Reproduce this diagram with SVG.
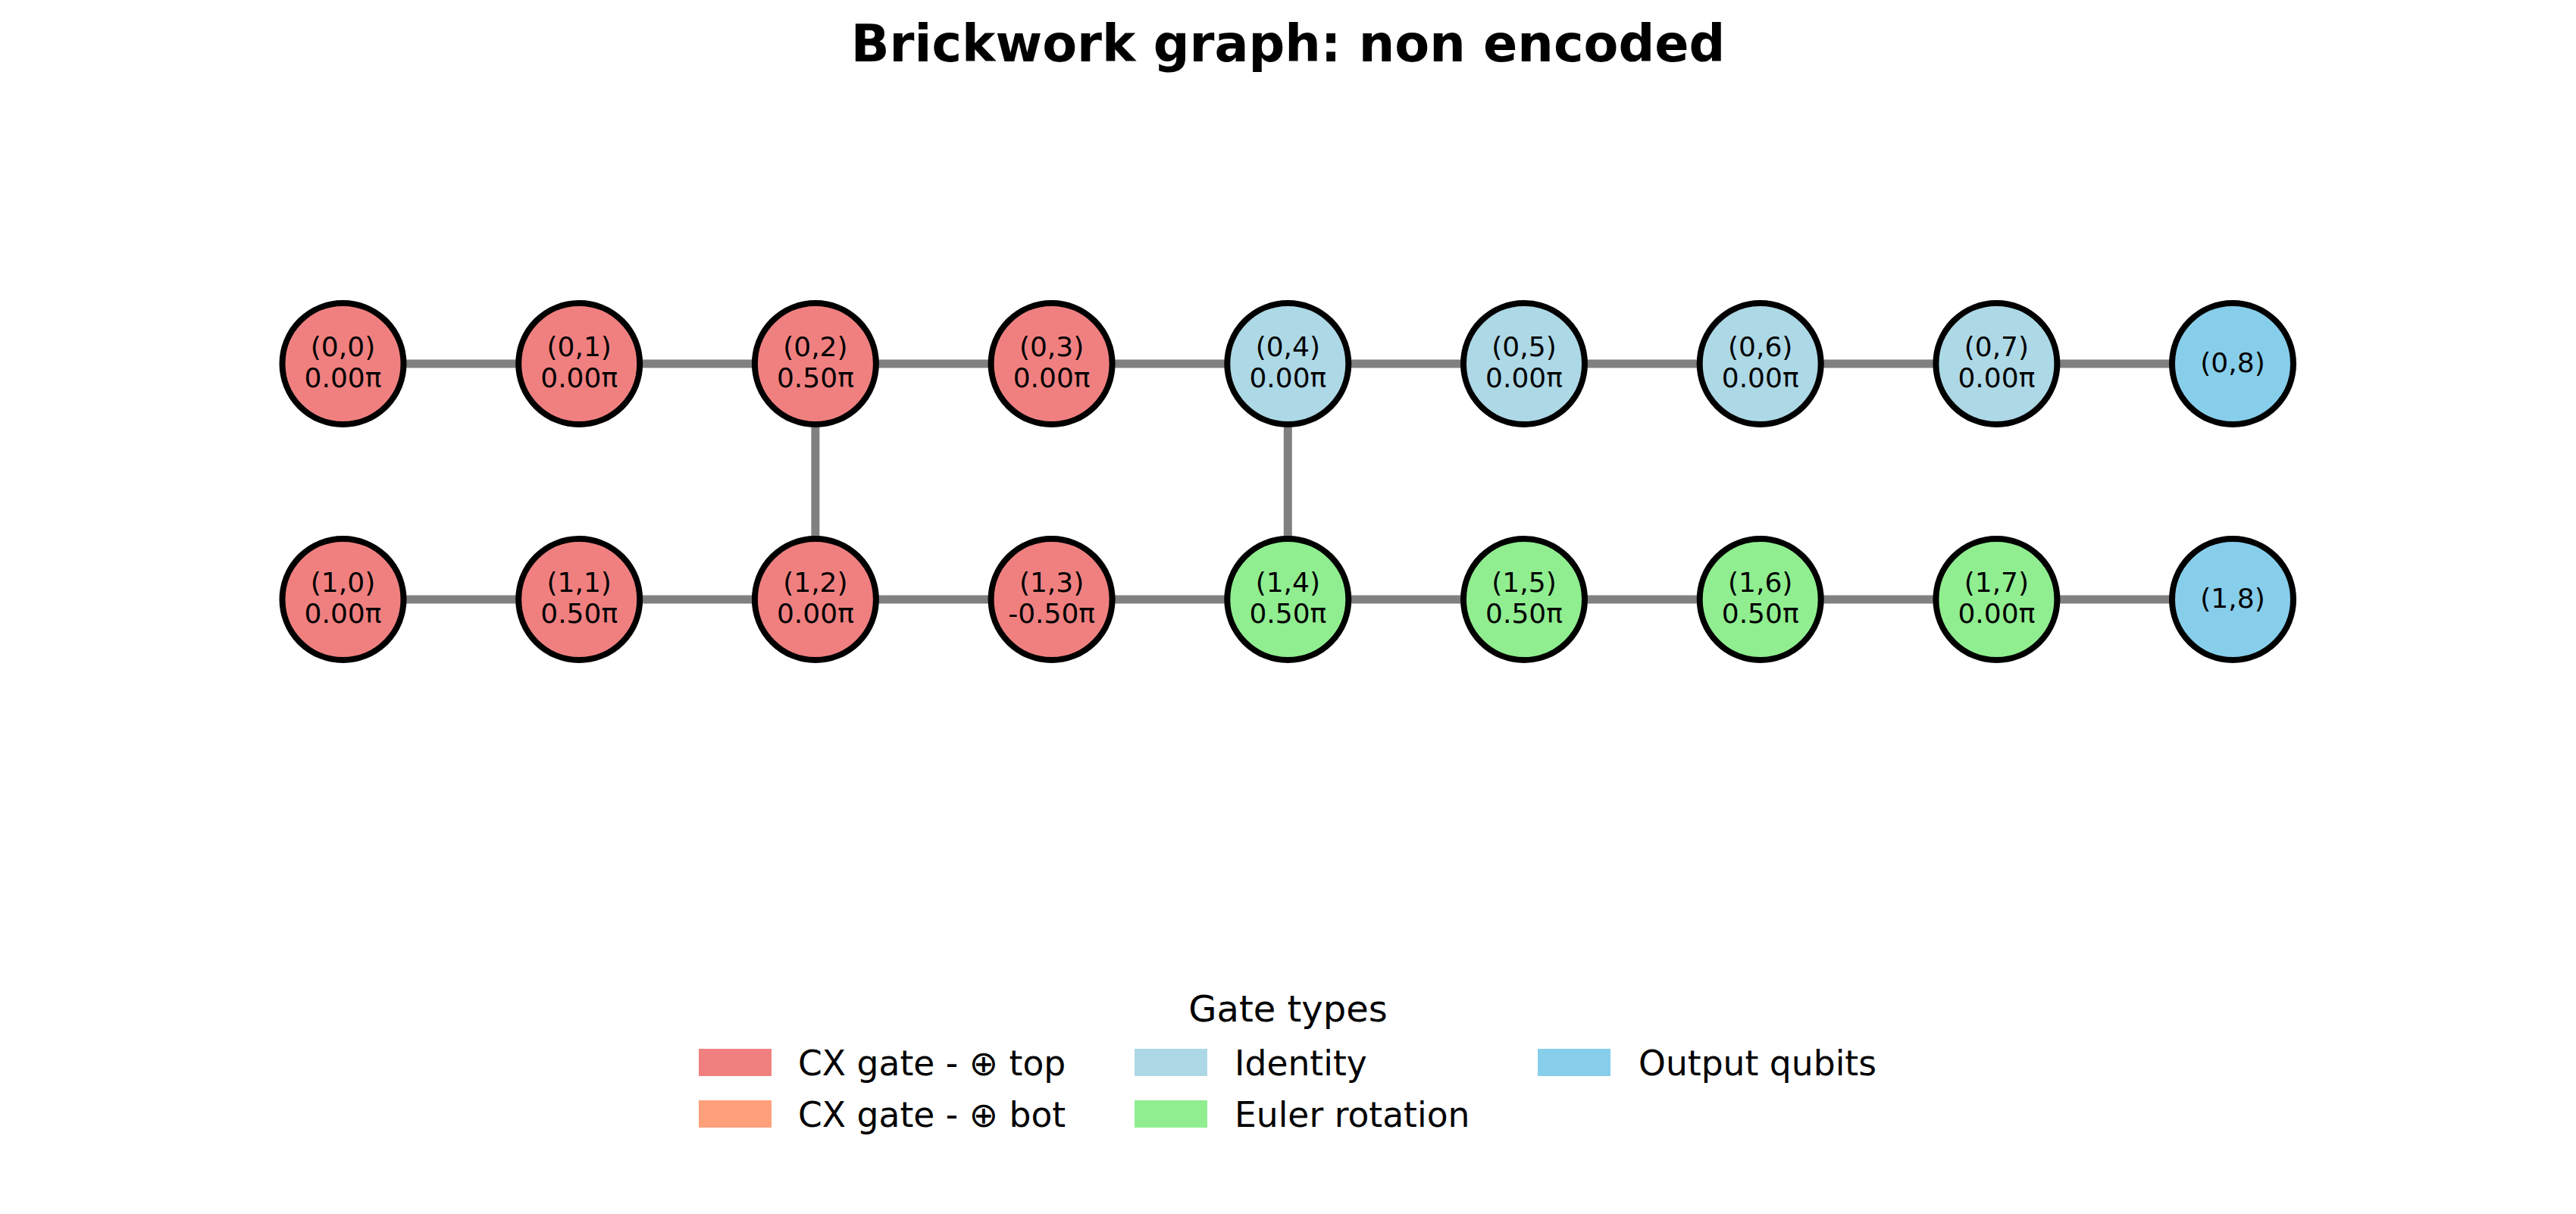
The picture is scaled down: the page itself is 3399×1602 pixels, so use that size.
<svg xmlns="http://www.w3.org/2000/svg" width="3399" height="1602" viewBox="0 0 3399 1602">
<style>
text{font-family:"DejaVu Sans","Liberation Sans",sans-serif;fill:#000}
.title{font-size:66.8px;font-weight:bold;text-anchor:middle}
.lbl{font-size:36px;text-anchor:middle}
.edge{stroke:#808080;stroke-width:11;fill:none}
.node{stroke:#000;stroke-width:8}
.cxt{fill:#F08080}.cxb{fill:#FFA07A}.idn{fill:#ADD8E6}.eul{fill:#90EE90}.out{fill:#87CEEB}
.lt{font-size:48px;text-anchor:middle}
.le{font-size:45.6px}
</style>
<rect width="3399" height="1602" fill="#fff"/>
<text class="title" x="1699.5" y="81">Brickwork graph: non encoded</text>
<g id="edges">
<line class="edge" x1="452.5" y1="480" x2="2946" y2="480"/>
<line class="edge" x1="452.5" y1="791" x2="2946" y2="791"/>
<line class="edge" x1="1075.9" y1="480" x2="1075.9" y2="791"/>
<line class="edge" x1="1699.3" y1="480" x2="1699.3" y2="791"/>
</g>
<g id="n0_0"><circle class="node cxt" cx="452.5" cy="480" r="80"/><text class="lbl" x="452.5" y="470">(0,0)</text><text class="lbl" x="452.5" y="511">0.00π</text></g>
<g id="n0_1"><circle class="node cxt" cx="764.2" cy="480" r="80"/><text class="lbl" x="764.2" y="470">(0,1)</text><text class="lbl" x="764.2" y="511">0.00π</text></g>
<g id="n0_2"><circle class="node cxt" cx="1075.9" cy="480" r="80"/><text class="lbl" x="1075.9" y="470">(0,2)</text><text class="lbl" x="1075.9" y="511">0.50π</text></g>
<g id="n0_3"><circle class="node cxt" cx="1387.6" cy="480" r="80"/><text class="lbl" x="1387.6" y="470">(0,3)</text><text class="lbl" x="1387.6" y="511">0.00π</text></g>
<g id="n0_4"><circle class="node idn" cx="1699.3" cy="480" r="80"/><text class="lbl" x="1699.3" y="470">(0,4)</text><text class="lbl" x="1699.3" y="511">0.00π</text></g>
<g id="n0_5"><circle class="node idn" cx="2011" cy="480" r="80"/><text class="lbl" x="2011" y="470">(0,5)</text><text class="lbl" x="2011" y="511">0.00π</text></g>
<g id="n0_6"><circle class="node idn" cx="2322.7" cy="480" r="80"/><text class="lbl" x="2322.7" y="470">(0,6)</text><text class="lbl" x="2322.7" y="511">0.00π</text></g>
<g id="n0_7"><circle class="node idn" cx="2634.4" cy="480" r="80"/><text class="lbl" x="2634.4" y="470">(0,7)</text><text class="lbl" x="2634.4" y="511">0.00π</text></g>
<g id="n0_8"><circle class="node out" cx="2946" cy="480" r="80"/><text class="lbl" x="2946" y="491">(0,8)</text></g>
<g id="n1_0"><circle class="node cxt" cx="452.5" cy="791" r="80"/><text class="lbl" x="452.5" y="781">(1,0)</text><text class="lbl" x="452.5" y="822">0.00π</text></g>
<g id="n1_1"><circle class="node cxt" cx="764.2" cy="791" r="80"/><text class="lbl" x="764.2" y="781">(1,1)</text><text class="lbl" x="764.2" y="822">0.50π</text></g>
<g id="n1_2"><circle class="node cxt" cx="1075.9" cy="791" r="80"/><text class="lbl" x="1075.9" y="781">(1,2)</text><text class="lbl" x="1075.9" y="822">0.00π</text></g>
<g id="n1_3"><circle class="node cxt" cx="1387.6" cy="791" r="80"/><text class="lbl" x="1387.6" y="781">(1,3)</text><text class="lbl" x="1387.6" y="822">-0.50π</text></g>
<g id="n1_4"><circle class="node eul" cx="1699.3" cy="791" r="80"/><text class="lbl" x="1699.3" y="781">(1,4)</text><text class="lbl" x="1699.3" y="822">0.50π</text></g>
<g id="n1_5"><circle class="node eul" cx="2011" cy="791" r="80"/><text class="lbl" x="2011" y="781">(1,5)</text><text class="lbl" x="2011" y="822">0.50π</text></g>
<g id="n1_6"><circle class="node eul" cx="2322.7" cy="791" r="80"/><text class="lbl" x="2322.7" y="781">(1,6)</text><text class="lbl" x="2322.7" y="822">0.50π</text></g>
<g id="n1_7"><circle class="node eul" cx="2634.4" cy="791" r="80"/><text class="lbl" x="2634.4" y="781">(1,7)</text><text class="lbl" x="2634.4" y="822">0.00π</text></g>
<g id="n1_8"><circle class="node out" cx="2946" cy="791" r="80"/><text class="lbl" x="2946" y="802">(1,8)</text></g>
<g id="legend">
<text class="lt" x="1699.5" y="1348">Gate types</text>
<rect class="cxt" x="922" y="1384" width="96" height="36"/><text class="le" x="1053" y="1419">CX gate - ⊕ top</text>
<rect class="cxb" x="922" y="1452" width="96" height="36"/><text class="le" x="1053" y="1487">CX gate - ⊕ bot</text>
<rect class="idn" x="1497" y="1384" width="96" height="36"/><text class="le" x="1629" y="1419">Identity</text>
<rect class="eul" x="1497" y="1452" width="96" height="36"/><text class="le" x="1629" y="1487">Euler rotation</text>
<rect class="out" x="2029" y="1384" width="96" height="36"/><text class="le" x="2162" y="1419">Output qubits</text>
</g>
</svg>
